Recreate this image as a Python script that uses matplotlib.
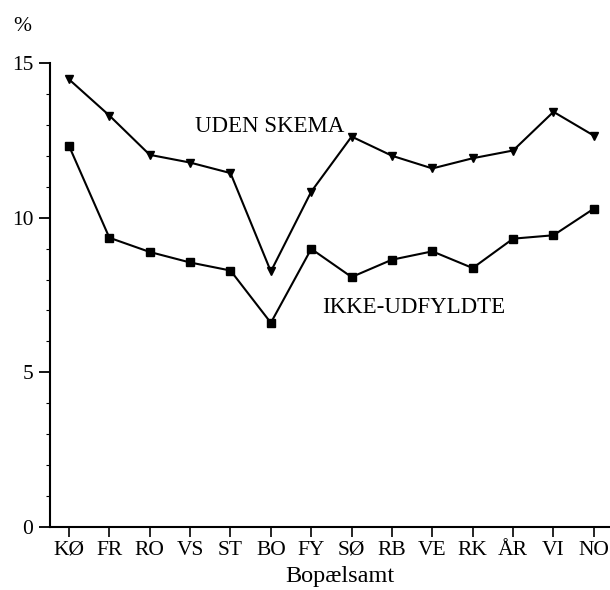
import numpy as np
import matplotlib.pyplot as plt
from matplotlib.ticker import MultipleLocator

# Bopælsamt (amt of residence)
amter = ['KØ', 'FR', 'RO', 'VS', 'ST', 'BO', 'FY', 'SØ', 'RB', 'VE', 'RK', 'ÅR', 'VI', 'NO']

# percent
uden_skema = [14.47, 13.30, 12.03, 11.78, 11.44, 8.26, 10.84, 12.62, 12.00, 11.59, 11.92, 12.17, 13.42, 12.65]
ikke_udfyldte = [12.32, 9.35, 8.89, 8.55, 8.29, 6.60, 8.99, 8.08, 8.64, 8.91, 8.37, 9.32, 9.43, 10.29]

plt.rcParams['font.family'] = ['Liberation Serif', 'DejaVu Serif']

fig = plt.figure(figsize=(6.1, 5.9), dpi=100)
ax = fig.add_axes([0.082, 0.1068, 0.918, 0.7865])

x = np.arange(len(amter))
ax.plot(x, uden_skema, color='black', lw=1.5, marker='v', ms=6)
ax.plot(x, ikke_udfyldte, color='black', lw=1.5, marker='s', ms=5.5)

# series labels written into the plot
ax.text(3.13, 12.94, 'UDEN SKEMA', fontsize=16.5, va='center', ha='left')
ax.text(6.28, 7.10, 'IKKE-UDFYLDTE', fontsize=16.5, va='center', ha='left')

ax.set_xlim(-0.47, 13.4)
ax.set_ylim(0, 15)
ax.set_xticks(x)
ax.set_xticklabels(amter, fontsize=15.5)
ax.set_yticks([0, 5, 10, 15])
ax.yaxis.set_minor_locator(MultipleLocator(1))
ax.tick_params(axis='y', which='major', direction='out', length=8, width=1.3, labelsize=15.5, pad=4)
ax.tick_params(axis='y', which='minor', direction='out', length=3, width=0.8)
ax.tick_params(axis='x', direction='out', length=7, width=1.2, pad=3)
ax.set_xlabel('Bopælsamt', fontsize=17.5)
ax.xaxis.set_label_coords(0.518, -0.085)

for s in ['top', 'right']:
    ax.spines[s].set_visible(False)
ax.spines['left'].set_linewidth(1.5)
ax.spines['bottom'].set_linewidth(1.5)

fig.text(0.021, 0.955, '%', fontsize=15.5, va='center')

fig.savefig('out.png', dpi=100)
